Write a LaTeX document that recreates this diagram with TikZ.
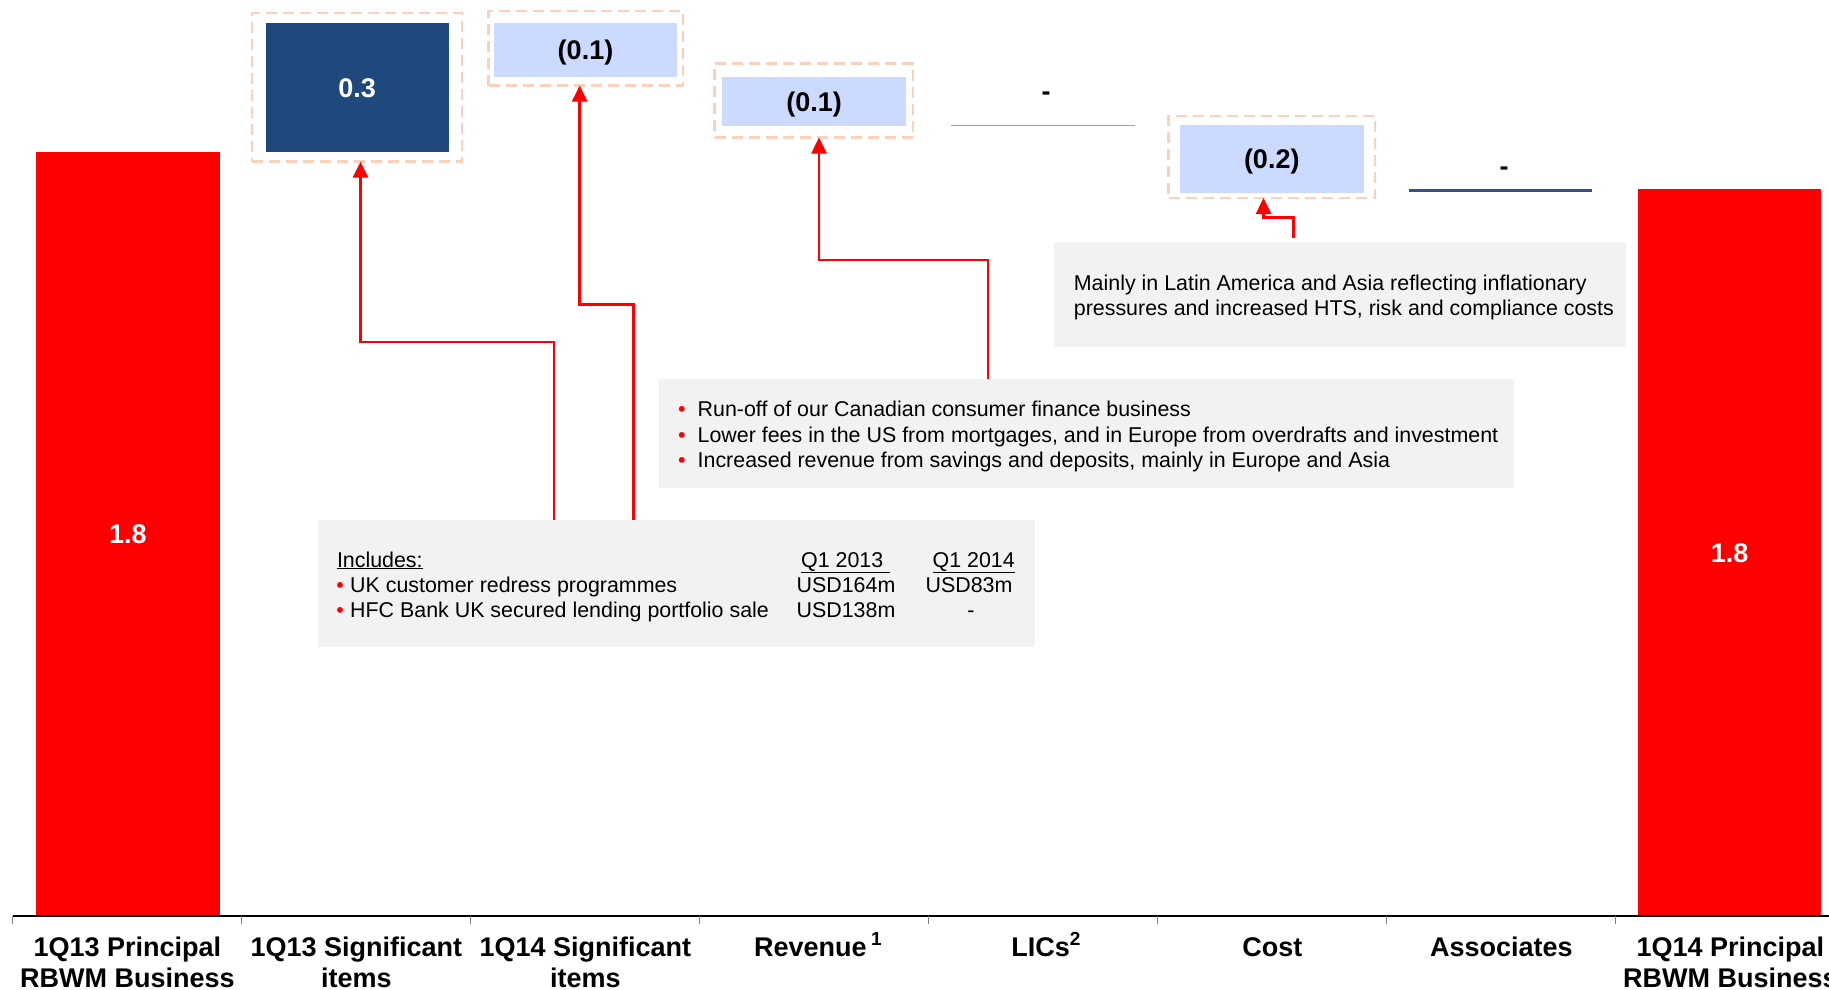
\documentclass[tikz,border=0pt]{standalone}
\usepackage{fontspec}
\setmainfont{Liberation Sans}
\usetikzlibrary{arrows.meta}
\definecolor{hred}{RGB}{255,0,0}
\definecolor{dkblue}{RGB}{31,73,125}
\definecolor{ltblue}{RGB}{204,218,255}
\definecolor{peach}{RGB}{252,208,186}
\definecolor{gbg}{RGB}{242,242,242}
\definecolor{licline}{RGB}{150,162,184}
\definecolor{assocline}{RGB}{47,82,143}
\definecolor{tickgray}{RGB}{128,128,128}
\begin{document}
\begin{tikzpicture}[x=1pt,y=-1pt,
  bigtxt/.style={font=\fontsize{27}{31.5}\selectfont\bfseries},
  bodytxt/.style={font=\fontsize{21.4}{25.7}\selectfont},
  blk/.style={inner sep=0pt, outer sep=0pt, draw=none},
  capc/.style={text height=19.3pt, text depth=0pt},
  barbox/.style={blk, fill=hred, text=white, bigtxt, capc},
  darkbox/.style={blk, fill=dkblue, text=white, bigtxt, capc},
  lightbox/.style={blk, fill=ltblue, text=black, bigtxt, capc},
  dbox/.style={blk, draw=peach, line width=2.8pt, dash pattern=on 11pt off 6pt},
  gbox/.style={blk, fill=gbg},
  arr/.style={draw=hred, line width=2.6pt, -{Triangle[width=15pt,length=16pt]}},
  lbl/.style={bigtxt, inner sep=0pt, anchor=base},
  ln/.style={bodytxt, inner sep=0pt, anchor=base west},
  cn/.style={bodytxt, inner sep=0pt, anchor=base},
  dashlbl/.style={bigtxt, inner sep=0pt},
]
\useasboundingbox (0,0) rectangle (1829,989);

% bars and boxes
\node[barbox, minimum width=184.3pt, minimum height=764pt] (b1) at (127.85,534) {1.8};
\node[barbox, minimum width=183pt, minimum height=727pt] (b8) at (1729.5,552.5) {1.8};

\node[dbox, minimum width=210pt, minimum height=148.7pt] (db1) at (357,87.35) {};
\node[dbox, minimum width=194.2pt, minimum height=74.5pt] (db2) at (585.9,48.25) {};
\node[dbox, minimum width=198.3pt, minimum height=74pt] (db3) at (813.85,100.5) {};
\node[dbox, minimum width=206.2pt, minimum height=82pt] (db4) at (1271.9,157) {};

\node[darkbox, minimum width=183.1pt, minimum height=128.4pt] (v2) at (357.15,87.5) {0.3};
\node[lightbox, minimum width=183pt, minimum height=53.4pt] (v3) at (585.5,50) {(0.1)};
\node[lightbox, minimum width=183.5pt, minimum height=49pt] (v4) at (814.15,101.5) {(0.1)};
\node[lightbox, minimum width=183.5pt, minimum height=67.4pt] (v6) at (1271.75,159) {(0.2)};

% zero-valued bars
\draw[licline, line width=1.5pt] (951.4,125.3) -- (1134.5,125.3);
\node[dashlbl] (d5) at (1046,95.7) {-};
\draw[assocline, line width=3pt] (1409.3,190.7) -- (1592.3,190.7);
\node[dashlbl] (d7) at (1504,171.3) {-};

% axis
\draw[black, line width=1.5pt] (12.9,916) -- (1829,916);
\foreach \i in {0,...,7} \draw[tickgray, line width=1pt] ({12.9+229*\i},916) -- ++(0,7.5);

% category labels
\node[lbl] (l1) at (127.4,956.4) {\begin{tabular}[t]{@{}c@{}}1Q13 Principal\\RBWM Business\end{tabular}};
\node[lbl] (l2) at (356.4,956.4) {\begin{tabular}[t]{@{}c@{}}1Q13 Significant\\items\end{tabular}};
\node[lbl] (l3) at (585.4,956.4) {\begin{tabular}[t]{@{}c@{}}1Q14 Significant\\items\end{tabular}};
\node[lbl] (l4) at (818,956.4) {Revenue\,\raisebox{11pt}{\fontsize{19}{19}\selectfont 1}};
\node[lbl] (l5) at (1046,956.4) {LICs\raisebox{11pt}{\fontsize{19}{19}\selectfont 2}};
\node[lbl] (l6) at (1272.4,956.4) {Cost};
\node[lbl] (l7) at (1501.4,956.4) {Associates};
\node[lbl] (l8) at (1730.4,956.4) {\begin{tabular}[t]{@{}c@{}}1Q14 Principal\\RBWM Business\end{tabular}};

% grey comment boxes
\node[gbox, minimum width=717.7pt, minimum height=126.7pt] (inc) at (676.55,583.35) {};
\node[gbox, minimum width=855pt, minimum height=109pt] (rev) at (1086.5,433.5) {};
\node[gbox, minimum width=571.5pt, minimum height=104.7pt] (cost) at (1339.75,294.35) {};

% cost box text
\node[ln] (c1) at (1073.7,290.3) {Mainly in Latin America and Asia reflecting inflationary};
\node[ln] (c2) at (1073.7,315.3) {pressures and increased HTS, risk and compliance costs};

% revenue box text
\node[ln] (r1) at (678,416.3) {\textcolor{hred}{\textbullet}\hspace{12pt}Run-off of our Canadian consumer finance business};
\node[ln] (r2) at (678,442) {\textcolor{hred}{\textbullet}\hspace{12pt}Lower fees in the US from mortgages, and in Europe from overdrafts and investment};
\node[ln] (r3) at (678,467.7) {\textcolor{hred}{\textbullet}\hspace{12pt}Increased revenue from savings and deposits, mainly in Europe and Asia};

% includes box text
\node[ln] (i0) at (336.8,567) {\underline{Includes:}};
\node[ln] (i1) at (336.2,592) {\textcolor{hred}{\textbullet}\hspace{6.3pt}UK customer redress programmes};
\node[ln] (i2) at (336.2,617) {\textcolor{hred}{\textbullet}\hspace{6.3pt}HFC Bank UK secured lending portfolio sale};
\node[ln] (h1) at (801,567) {\underline{Q1 2013\hspace{6.5pt}}};
\node[ln] (h2) at (932.5,567) {\underline{Q1 2014}};
\node[cn] (u1) at (846,592) {USD164m};
\node[cn] (u2) at (846,617) {USD138m};
\node[cn] (u3) at (969,592) {USD83m};
\node[cn] (u4) at (971,617) {-};

% connectors
\coordinate (a1x) at (554,0);
\coordinate (t1x) at (360.5,0);
\coordinate (a2x) at (633.5,0);
\coordinate (t2x) at (579.7,0);
\coordinate (a3x) at (988,0);
\coordinate (t3x) at (819,0);
\coordinate (a4s) at (1293.6,238);
\coordinate (t4x) at (1263.5,0);

\draw[arr] (inc.north -| a1x) -- ++(0,-178.2) -| (db1.south -| t1x);
\draw[arr] (inc.north -| a2x) -- ++(0,-215.5) -| (db2.south -| t2x);
\draw[arr] (rev.north -| a3x) -- ++(0,-119) -| (db3.south -| t3x);
\draw[arr] (a4s) -- ++(0,-20.7) -| (db4.south -| t4x);
\end{tikzpicture}
\end{document}
